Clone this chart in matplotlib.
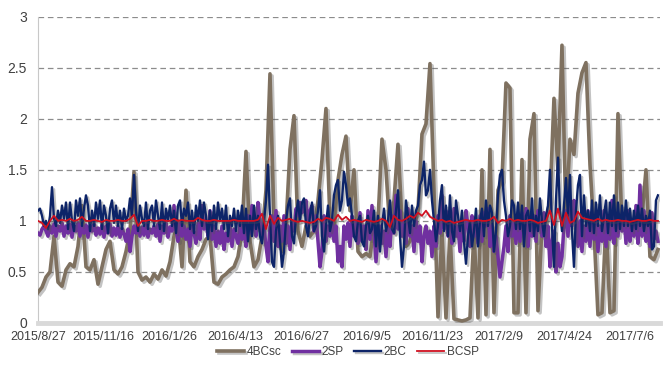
import numpy as np
import matplotlib
matplotlib.use("Agg")
import matplotlib.pyplot as plt
import matplotlib.patheffects as pe

# tick labels (category axis, one label every ~50 trading days)
tick_labels = ["2015/8/27", "2015/11/16", "2016/1/26", "2016/4/13", "2016/6/27",
               "2016/9/5", "2016/11/23", "2017/2/9", "2017/4/24", "2017/7/6"]

# series values
bc4sc = [0.30, 0.35, 0.45, 0.50, 0.85, 0.40, 0.36, 0.52, 0.58, 0.55,
         0.75, 1.15, 0.55, 0.52, 0.62, 0.38, 0.55, 0.72, 0.80, 0.52,
         0.48, 0.55, 0.70, 0.90, 1.48, 0.50, 0.42, 0.45, 0.40, 0.48,
         0.43, 0.52, 0.46, 0.60, 0.85, 1.00, 0.55, 1.30, 0.60, 0.55,
         0.65, 0.72, 0.82, 0.85, 0.40, 0.38, 0.45, 0.48, 0.52, 0.55,
         0.65, 0.90, 1.68, 0.80, 0.55, 0.62, 0.85, 1.30, 2.44, 1.00,
         0.85, 0.70, 0.95, 1.70, 2.03, 0.90, 0.75, 0.95, 0.85, 0.90,
         1.20, 1.60, 2.10, 1.00, 0.90, 1.40, 1.65, 1.83, 1.10, 1.50,
         0.70, 0.65, 0.68, 0.65, 0.95, 1.00, 1.80, 1.50, 0.90, 1.20,
         1.75, 1.00, 0.75, 0.80, 0.95, 1.10, 1.85, 1.95, 2.54, 1.30,
         0.06, 0.90, 0.05, 0.90, 0.04, 0.03, 0.02, 0.03, 0.05, 0.90,
         0.05, 1.50, 0.08, 1.70, 0.10, 1.30, 1.40, 2.35, 2.30, 0.10,
         0.10, 1.60, 0.10, 1.80, 2.05, 0.12, 0.95, 1.00, 1.20, 2.20,
         1.50, 2.72, 1.00, 1.80, 1.65, 2.25, 2.45, 2.55, 1.55, 0.90,
         0.08, 0.10, 1.00, 0.10, 0.12, 2.05, 0.95, 0.90, 1.00, 0.95,
         1.00, 1.05, 1.50, 0.65, 0.62, 0.72]

sp2 = [0.88, 0.86, 0.92, 0.95, 0.90, 0.85, 0.95, 0.88, 0.97, 0.85,
       0.95, 0.90, 0.98, 0.85, 0.95, 0.88, 0.97, 0.84, 0.95, 0.90,
       0.98, 0.85, 0.95, 0.88, 0.96, 0.84, 0.95, 0.90, 0.97, 0.86,
       0.93, 0.87, 0.96, 0.84, 0.95, 0.88, 0.97, 0.85, 0.93, 0.86,
       0.95, 0.84, 0.93, 0.87, 0.80, 0.92, 0.70, 0.85, 0.95, 0.88,
       0.96, 0.85, 0.94, 0.86, 0.97, 0.84, 0.92, 0.88, 0.95, 0.85,
       0.97, 0.80, 0.95, 0.88, 0.98, 0.84, 0.94, 0.90, 1.15, 0.92,
       0.80, 0.98, 0.85, 0.95, 0.82, 0.92, 0.75, 0.95, 0.88, 0.78,
       0.98, 0.82, 1.15, 0.92, 1.00, 0.85, 1.10, 0.82, 0.95, 0.75,
       0.90, 0.78, 0.95, 0.72, 0.88, 0.80, 0.95, 0.75, 0.92, 0.85,
       0.78, 0.98, 0.82, 0.95, 0.75, 1.05, 0.88, 1.15, 0.95, 0.85,
       1.18, 1.00, 0.85, 0.95, 0.75, 0.60, 0.95, 1.05, 0.80, 1.10,
       0.75, 0.95, 0.80, 1.05, 0.78, 0.95, 0.72, 1.00, 0.90, 1.12,
       1.05, 1.18, 1.08, 1.12, 1.20, 0.95, 1.10, 1.15, 0.90, 1.05,
       0.80, 0.55, 0.70, 1.05, 0.80, 0.95, 0.85, 1.00, 0.80, 0.95,
       0.60, 0.75, 0.55, 0.95, 0.82, 0.98, 0.75, 1.05, 0.85, 1.00,
       0.78, 1.08, 0.80, 0.95, 0.72, 1.10, 0.82, 1.15, 0.90, 0.60,
       0.85, 0.95, 0.78, 0.90, 0.65, 0.95, 0.75, 1.05, 0.88, 1.25,
       0.92, 1.10, 0.85, 1.00, 0.78, 1.12, 0.85, 0.95, 0.70, 1.00,
       0.80, 0.95, 0.60, 0.85, 0.95, 0.78, 0.90, 0.65, 0.95, 0.75,
       1.05, 0.88, 1.25, 0.92, 1.10, 0.85, 1.00, 0.78, 1.12, 0.85,
       0.95, 0.70, 1.00, 0.80, 1.10, 0.95, 0.75, 1.05, 0.85, 0.98,
       0.78, 1.05, 0.80, 1.08, 0.95, 1.12, 0.75, 0.95, 0.70, 0.85,
       0.65, 0.45, 0.60, 0.75, 0.95, 0.70, 1.05, 0.85, 0.98, 0.78,
       1.05, 0.80, 1.08, 0.95, 1.12, 0.75, 1.00, 0.85, 1.05, 0.80,
       1.10, 0.95, 0.85, 1.08, 0.75, 0.95, 0.55, 0.80, 0.90, 0.50,
       0.78, 0.55, 0.65, 0.95, 1.10, 0.85, 1.15, 0.95, 1.20, 1.05,
       0.75, 1.00, 0.70, 0.95, 0.80, 1.10, 0.75, 1.05, 0.82, 1.00,
       0.70, 0.95, 0.80, 1.10, 0.75, 1.05, 0.82, 1.20, 0.78, 1.00,
       0.85, 1.05, 0.90, 1.05, 0.78, 1.10, 0.80, 1.00, 0.85, 1.15,
       0.78, 1.35, 0.85, 1.10, 0.80, 1.00, 0.75, 1.08, 0.82, 0.90,
       0.80]

bc2 = [1.10, 1.12, 1.05, 0.95, 1.00, 0.92, 1.05, 1.33, 1.02, 0.95,
       1.10, 0.98, 1.15, 1.02, 1.18, 0.92, 1.18, 1.00, 0.90, 1.20,
       1.05, 1.22, 0.95, 1.12, 1.25, 1.15, 0.90, 1.10, 0.95, 1.18,
       1.02, 1.20, 0.92, 1.15, 1.05, 0.88, 1.12, 1.20, 0.98, 1.15,
       0.95, 1.10, 0.92, 1.12, 1.00, 1.05, 1.22, 1.05, 1.45, 1.10,
       0.90, 1.15, 1.02, 0.95, 1.18, 0.92, 1.10, 1.15, 0.95, 1.20,
       1.05, 0.92, 1.18, 0.90, 1.12, 1.00, 1.15, 0.95, 1.10, 0.88,
       1.15, 1.20, 0.95, 1.12, 1.05, 1.18, 0.92, 1.10, 0.88, 1.15,
       1.00, 1.20, 0.95, 1.18, 1.05, 0.82, 1.10, 0.90, 1.15, 0.92,
       1.18, 1.00, 1.12, 0.92, 1.15, 0.85, 1.05, 0.95, 1.12, 0.90,
       1.10, 0.95, 1.15, 0.88, 1.12, 0.80, 1.05, 0.85, 1.15, 0.92,
       1.05, 0.85, 0.78, 1.00, 1.20, 1.55, 1.05, 0.60, 0.55, 0.90,
       1.05, 0.80, 0.55, 0.70, 1.00, 1.15, 1.22, 0.85, 0.78, 1.05,
       1.20, 1.00, 1.18, 1.22, 0.95, 0.85, 1.05, 1.18, 0.90, 0.95,
       1.10, 1.30, 0.85, 0.70, 0.95, 1.15, 0.90, 1.00, 1.25, 1.35,
       1.40, 1.10, 1.20, 1.48, 1.35, 1.15, 1.22, 1.05, 0.85, 0.80,
       1.00, 1.05, 0.80, 0.75, 0.95, 1.05, 0.88, 0.92, 1.10, 0.75,
       1.05, 0.70, 0.95, 1.12, 0.90, 1.00, 1.20, 0.92, 0.88, 1.10,
       1.30, 0.85, 0.55, 0.75, 1.20, 1.05, 0.88, 1.15, 0.95, 1.10,
       1.15, 1.35, 1.40, 1.58, 1.25, 1.30, 1.50, 1.20, 1.00, 0.80,
       0.95, 1.20, 1.35, 0.90, 1.15, 0.85, 1.25, 0.90, 0.80, 1.20,
       1.05, 0.90, 1.10, 0.80, 0.58, 0.85, 1.00, 0.75, 0.90, 1.12,
       0.75, 1.00, 1.12, 0.85, 1.20, 0.95, 1.15, 1.08, 0.70, 0.90,
       1.25, 1.45, 1.50, 1.20, 1.05, 0.85, 0.95, 1.20, 1.15, 0.92,
       1.18, 0.92, 1.15, 0.75, 1.05, 1.10, 0.90, 1.22, 0.85, 1.05,
       0.90, 1.22, 1.00, 0.85, 1.05, 1.15, 1.50, 0.95, 0.55, 1.20,
       1.62, 1.10, 0.90, 1.15, 1.42, 1.05, 1.45, 0.90, 0.55, 1.10,
       1.35, 1.45, 0.85, 1.25, 0.95, 1.10, 0.90, 1.20, 0.88, 1.18,
       0.95, 1.25, 0.90, 1.05, 1.20, 0.88, 1.18, 0.95, 1.25, 0.90,
       1.18, 0.92, 1.15, 0.95, 1.20, 0.95, 1.12, 0.90, 1.10, 0.92,
       1.15, 0.95, 1.12, 0.90, 1.05, 0.95, 1.10, 0.72, 0.75, 1.20,
       1.25]

bcsp = [1.00, 0.98, 0.93, 1.00, 1.05, 1.00, 1.01, 1.00, 1.02, 1.00,
        1.01, 1.04, 1.00, 1.00, 1.01, 1.00, 0.99, 1.01, 1.00, 1.00,
        1.01, 1.00, 1.00, 1.02, 1.06, 0.95, 1.00, 1.00, 1.01, 1.00,
        1.00, 1.01, 1.00, 1.00, 1.02, 1.00, 1.01, 1.00, 1.00, 1.00,
        1.03, 1.01, 1.00, 1.00, 1.01, 1.00, 1.00, 1.00, 1.00, 1.01,
        1.00, 1.00, 1.00, 1.00, 1.00, 1.01, 1.07, 0.92, 1.05, 0.97,
        1.03, 1.00, 1.01, 1.02, 1.00, 0.99, 1.00, 0.99, 0.98, 0.99,
        1.02, 1.00, 1.03, 1.02, 1.00, 1.06, 1.01, 1.04, 1.00, 1.01,
        1.00, 0.99, 1.01, 1.00, 0.99, 1.00, 1.02, 1.00, 0.94, 1.05,
        1.01, 1.00, 1.02, 1.05, 1.03, 1.08, 1.05, 1.10, 1.04, 1.02,
        1.00, 1.01, 0.99, 1.00, 0.98, 0.99, 1.00, 1.01, 1.00, 1.00,
        1.01, 1.00, 1.00, 1.01, 1.04, 0.98, 1.01, 1.00, 1.02, 1.00,
        1.01, 1.00, 1.00, 1.01, 1.00, 0.98, 0.99, 1.00, 1.10, 0.96,
        1.12, 0.95, 1.08, 0.98, 1.00, 1.09, 1.03, 1.02, 1.01, 1.00,
        1.02, 1.00, 1.01, 1.00, 1.00, 1.01, 1.00, 1.00, 0.99, 1.00,
        1.01, 1.00, 1.00, 1.01, 1.00, 1.00]

# coarse series sit on whole category steps, the dense ones on half steps
x_coarse = np.arange(len(bc4sc))
x_dense = np.arange(len(bc2)) * 0.5

plt.rcParams['font.family'] = ['Liberation Sans', 'DejaVu Sans']
fig = plt.figure(figsize=(6.69, 3.66), dpi=100)
ax = fig.add_axes([0.0568, 0.1175, 0.9297, 0.837])

shadow = [pe.SimpleLineShadow(offset=(1.5, -1.5), alpha=0.35, shadow_color='#555555'), pe.Normal()]

ax.plot(x_coarse, bc4sc, color='#7f7160', lw=2.6, label='4BCsc', path_effects=shadow, zorder=3)
ax.plot(x_dense, sp2, color='#7030a0', lw=2.5, label='2SP', path_effects=shadow, zorder=4)
ax.plot(x_dense, bc2, color='#0d2468', lw=1.7, label='2BC', path_effects=shadow, zorder=5)
ax.plot(x_coarse, bcsp, color='#d01020', lw=1.3, label='BCSP', path_effects=shadow, zorder=6)

ax.set_xlim(0, 155.5)
ax.set_ylim(0, 3)
ax.set_yticks([0, 0.5, 1, 1.5, 2, 2.5, 3])
ax.set_yticklabels(['0', '0.5', '1', '1.5', '2', '2.5', '3'])
ax.set_xticks(np.arange(len(tick_labels)) * 16.45)
ax.set_xticklabels(tick_labels)

for yv in [0.5, 1, 1.5, 2, 2.5, 3]:
    ax.axhline(yv, color='#8c8c8c', lw=0.9, ls=(0, (4.5, 3)), zorder=1)

for s in ['top', 'right']:
    ax.spines[s].set_visible(False)
ax.spines['left'].set_color('#c8c8c8')
ax.spines['left'].set_linewidth(0.8)
ax.spines['bottom'].set_color('#d9d9d9')
ax.spines['bottom'].set_linewidth(3.5)
ax.tick_params(axis='both', length=0, colors='#404040')
ax.tick_params(axis='x', pad=6, labelsize=9)
ax.tick_params(axis='y', pad=8, labelsize=10)

leg = fig.legend(loc='center', bbox_to_anchor=(0.52, 0.038), ncol=4, frameon=False,
                 fontsize=8.5, handlelength=2.3, columnspacing=0.9, handletextpad=0.2)
for t in leg.get_texts():
    t.set_color('#404040')

fig.savefig('out.png', dpi=100)
